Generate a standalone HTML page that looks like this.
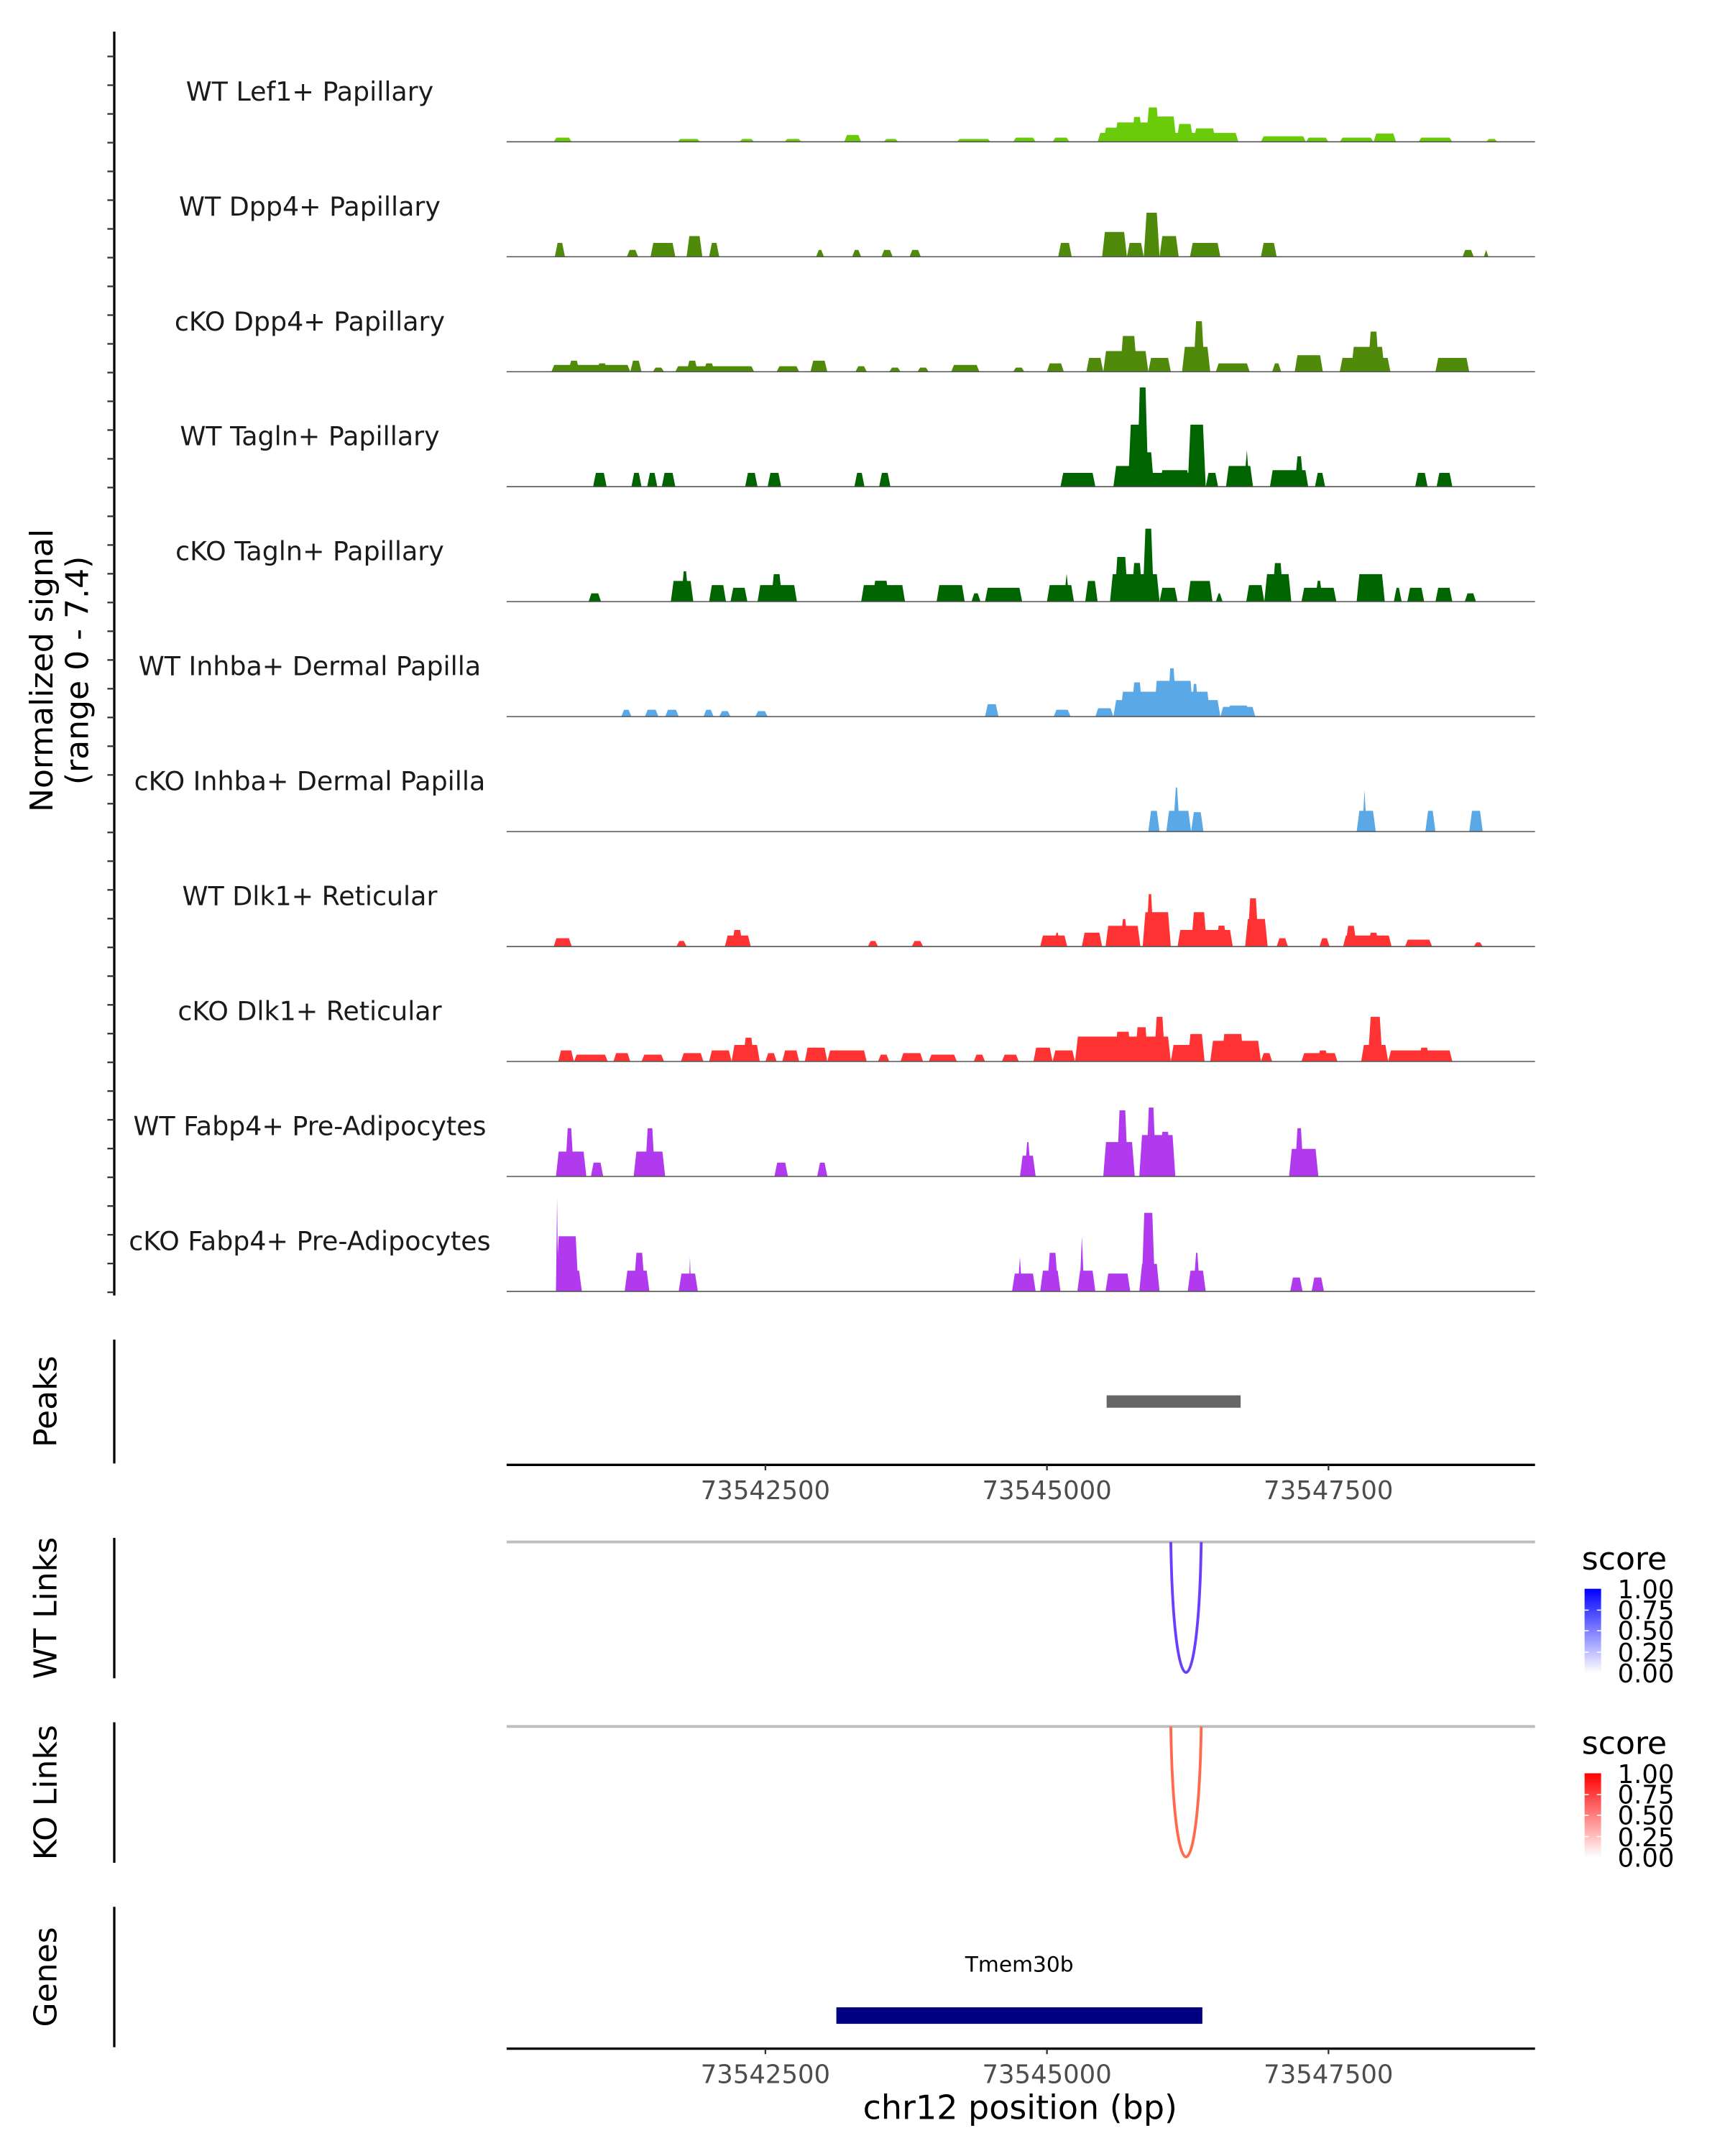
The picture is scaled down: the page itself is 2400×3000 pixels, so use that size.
<!DOCTYPE html>
<html><head><meta charset="utf-8">
<style>
html,body{margin:0;padding:0;background:#fff;}
svg{display:block;font-family:"DejaVu Sans","Liberation Sans",sans-serif;}
</style></head>
<body>
<svg id="chart" xmlns="http://www.w3.org/2000/svg" width="2400" height="3000" viewBox="0 0 1253 1566" preserveAspectRatio="none">
<rect x="0" y="0" width="1253" height="1566" fill="#fff"/>
<g id="tracks"></g>
<g id="leftaxis"></g>
<text transform="translate(44,487) rotate(-90)" text-anchor="middle" font-size="23" fill="#000"><tspan x="0" dy="-6">Normalized signal</tspan><tspan x="0" dy="26">(range 0 - 7.4)</tspan></text>

<!-- Peaks -->
<line x1="83" y1="973" x2="83" y2="1063" stroke="#000" stroke-width="1.7"/>
<text transform="translate(41,1018) rotate(-90)" text-anchor="middle" font-size="23">Peaks</text>
<g id="peaks"></g>
<g id="xaxis1"></g>

<!-- WT links -->
<line x1="83" y1="1117" x2="83" y2="1219" stroke="#000" stroke-width="1.7"/>
<text transform="translate(41,1168) rotate(-90)" text-anchor="middle" font-size="23">WT Links</text>
<g id="wtlinks"></g>
<!-- KO links -->
<line x1="83" y1="1251" x2="83" y2="1353" stroke="#000" stroke-width="1.7"/>
<text transform="translate(41,1302) rotate(-90)" text-anchor="middle" font-size="23">KO Links</text>
<g id="kolinks"></g>

<defs>
<linearGradient id="gBlue" x1="0" y1="1" x2="0" y2="0"><stop offset="0" stop-color="#ffffff"/><stop offset="1" stop-color="#0000ff"/></linearGradient>
<linearGradient id="gRed" x1="0" y1="1" x2="0" y2="0"><stop offset="0" stop-color="#ffffff"/><stop offset="1" stop-color="#ff0000"/></linearGradient>
</defs>
<g>
<text x="1149" y="1140" font-size="23">score</text>
<rect x="1151" y="1154" width="12" height="61" fill="url(#gBlue)"/>
<g font-size="18.5" fill="#000">
<text x="1175" y="1161">1.00</text><text x="1175" y="1176">0.75</text><text x="1175" y="1191">0.50</text><text x="1175" y="1207">0.25</text><text x="1175" y="1222">0.00</text>
</g>
<g stroke="#fff" stroke-width="0.8"><line x1="1151" y1="1169.5" x2="1154" y2="1169.5"/><line x1="1160" y1="1169.5" x2="1163" y2="1169.5"/><line x1="1151" y1="1184.5" x2="1154" y2="1184.5"/><line x1="1160" y1="1184.5" x2="1163" y2="1184.5"/><line x1="1151" y1="1200" x2="1154" y2="1200"/><line x1="1160" y1="1200" x2="1163" y2="1200"/></g>
</g>
<g>
<text x="1149" y="1274" font-size="23">score</text>
<rect x="1151" y="1288" width="12" height="61" fill="url(#gRed)"/>
<g font-size="18.5" fill="#000">
<text x="1175" y="1295">1.00</text><text x="1175" y="1310">0.75</text><text x="1175" y="1325">0.50</text><text x="1175" y="1341">0.25</text><text x="1175" y="1356">0.00</text>
</g>
<g stroke="#fff" stroke-width="0.8"><line x1="1151" y1="1303.5" x2="1154" y2="1303.5"/><line x1="1160" y1="1303.5" x2="1163" y2="1303.5"/><line x1="1151" y1="1318.5" x2="1154" y2="1318.5"/><line x1="1160" y1="1318.5" x2="1163" y2="1318.5"/><line x1="1151" y1="1334" x2="1154" y2="1334"/><line x1="1160" y1="1334" x2="1163" y2="1334"/></g>
</g>

<!-- Genes -->
<line x1="83" y1="1385" x2="83" y2="1487" stroke="#000" stroke-width="1.7"/>
<text transform="translate(41,1436) rotate(-90)" text-anchor="middle" font-size="23">Genes</text>
<g id="genes"></g>
<g id="xaxis2"></g>
<text x="741" y="1539" text-anchor="middle" font-size="24">chr12 position (bp)</text>
</svg>
<script>
// ---- data ----
const regionStart = 73540202;
const regionEnd = 73549334;
const xTicks = [73542500, 73545000, 73547500];
const xTickLabels = ["73542500", "73545000", "73547500"];
const trackNames = ["WT Lef1+ Papillary","WT Dpp4+ Papillary","cKO Dpp4+ Papillary","WT Tagln+ Papillary","cKO Tagln+ Papillary","WT Inhba+ Dermal Papilla","cKO Inhba+ Dermal Papilla","WT Dlk1+ Reticular","cKO Dlk1+ Reticular","WT Fabp4+ Pre-Adipocytes","cKO Fabp4+ Pre-Adipocytes"];
const trackColors = ["#6acb0a","#4f8a0b","#4f8a0b","#006400","#006400","#5aa9e6","#5aa9e6","#ff3333","#ff3333","#b23aee","#b23aee"];
const signalMax = 7.4;
// peaks: [start kb offset from 73540000, end kb offset, normalized signal]
const lef1WT = [[0.62,0.78,0.28],[1.72,1.92,0.19],[2.27,2.40,0.19],[2.67,2.82,0.19],[3.2,3.35,0.46],[3.55,3.68,0.19],[4.2,4.5,0.19],[4.7,4.9,0.28],[5.05,5.2,0.28],[5.45,6.7,0.6],[5.5,5.7,0.95],[5.6,5.95,1.3],[5.75,5.85,1.67],[5.88,6.0,2.31],[5.95,6.15,1.7],[6.15,6.3,1.2],[6.3,6.5,0.9],[6.9,7.3,0.37],[7.3,7.5,0.28],[7.6,7.9,0.28],[7.9,8.1,0.56],[8.3,8.6,0.28],[8.9,9.0,0.19]];
const dpp4WT = [[0.63,0.72,0.93],[1.27,1.37,0.46],[1.48,1.70,0.93],[1.80,1.94,1.39],[2.0,2.09,0.93],[2.95,3.02,0.46],[3.27,3.35,0.46],[3.53,3.63,0.46],[3.78,3.88,0.46],[5.1,5.22,0.93],[5.49,5.71,1.67],[5.71,5.86,0.93],[5.86,6.0,2.96],[6.0,6.17,1.39],[6.27,6.54,0.93],[6.9,7.04,0.93],[8.69,8.79,0.46],[8.88,8.92,0.46]];
const dpp4KO = [[0.6,1.3,0.46],[0.75,0.85,0.74],[1.0,1.1,0.56],[1.1,1.3,0.37],[1.3,1.4,0.74],[1.5,1.6,0.28],[1.7,2.4,0.37],[1.8,1.9,0.74],[1.95,2.05,0.56],[2.6,2.8,0.37],[2.9,3.05,0.74],[3.3,3.4,0.37],[3.6,3.7,0.28],[3.85,3.95,0.28],[4.15,4.4,0.46],[4.7,4.8,0.28],[5.0,5.15,0.56],[5.35,5.5,0.93],[5.5,5.9,1.39],[5.65,5.8,2.4],[5.9,6.1,0.93],[6.2,6.45,1.67],[6.3,6.4,3.4],[6.5,6.8,0.56],[7.0,7.08,0.56],[7.2,7.45,1.11],[7.6,8.05,0.93],[7.7,8.0,1.67],[7.85,7.95,2.7],[8.45,8.75,0.93]];
const taglnWT = [[0.97,1.09,0.93],[1.31,1.40,0.93],[1.45,1.54,0.93],[1.58,1.70,0.93],[2.32,2.43,0.93],[2.52,2.64,0.93],[3.29,3.38,0.93],[3.51,3.61,0.93],[5.12,5.43,0.93],[5.59,6.3,0.93],[5.59,5.79,1.39],[5.72,5.86,4.17],[5.8,5.9,6.67],[5.86,5.95,2.31],[6.0,6.27,1.11],[6.25,6.41,4.17],[6.41,6.52,0.93],[6.59,6.83,1.39],[6.75,6.8,2.4],[6.98,7.32,1.11],[7.2,7.28,2.04],[7.38,7.47,0.93],[8.27,8.38,0.93],[8.46,8.6,0.93]];
const taglnKO = [[0.93,1.04,0.56],[1.66,1.86,1.39],[1.75,1.82,2.04],[2.0,2.15,1.11],[2.19,2.34,0.93],[2.43,2.78,1.11],[2.55,2.65,1.85],[3.35,3.74,1.11],[3.45,3.6,1.4],[4.02,4.27,1.11],[4.33,4.41,0.56],[4.45,4.78,0.93],[5.0,5.24,1.11],[5.15,5.2,1.85],[5.34,5.45,1.39],[5.56,6.0,1.85],[5.6,5.72,3.0],[5.75,5.85,2.6],[5.85,5.95,4.9],[6.0,6.16,0.93],[6.25,6.47,1.39],[6.5,6.56,0.56],[6.77,6.93,1.11],[6.93,7.17,1.85],[7.0,7.1,2.59],[7.26,7.57,0.93],[7.38,7.45,1.4],[7.75,8.0,1.85],[8.08,8.15,0.93],[8.2,8.35,0.93],[8.45,8.6,0.93],[8.71,8.81,0.56]];
const inhbaWT = [[1.22,1.31,0.46],[1.43,1.55,0.46],[1.61,1.73,0.46],[1.95,2.04,0.46],[2.09,2.19,0.37],[2.41,2.52,0.37],[4.45,4.57,0.83],[5.06,5.21,0.46],[5.43,5.59,0.56],[5.59,6.54,1.11],[5.65,6.45,1.67],[5.75,5.85,2.3],[5.95,6.3,2.4],[6.07,6.15,3.24],[6.28,6.35,2.2],[6.54,6.85,0.65],[6.6,6.8,0.74]];
const inhbaKO = [[5.90,6.0,1.39],[6.06,6.28,1.39],[6.12,6.18,2.96],[6.28,6.39,1.3],[7.75,7.92,1.39],[7.8,7.84,2.78],[8.36,8.45,1.39],[8.75,8.87,1.39]];
const dlk1WT = [[0.62,0.78,0.56],[1.71,1.80,0.37],[2.14,2.37,0.74],[2.2,2.3,1.11],[3.41,3.5,0.37],[3.8,3.9,0.37],[4.94,5.18,0.74],[5.06,5.12,0.93],[5.31,5.49,0.93],[5.52,5.83,1.39],[5.65,5.72,1.85],[5.85,6.1,2.31],[5.88,5.95,3.52],[6.16,6.65,1.11],[6.28,6.42,2.31],[6.5,6.6,1.4],[6.76,6.96,1.85],[6.78,6.88,3.24],[7.04,7.14,0.56],[7.42,7.51,0.56],[7.63,8.06,0.74],[7.65,7.75,1.39],[7.85,7.95,0.93],[8.18,8.42,0.46],[8.79,8.87,0.28]];
const dlk1KO = [[0.66,0.8,0.74],[0.8,1.1,0.46],[1.15,1.3,0.56],[1.4,1.6,0.46],[1.75,1.95,0.56],[2.0,2.2,0.74],[2.2,2.45,1.11],[2.3,2.4,1.6],[2.5,2.6,0.56],[2.65,2.8,0.74],[2.85,3.05,0.93],[3.05,3.4,0.74],[3.5,3.6,0.46],[3.7,3.9,0.56],[3.95,4.2,0.46],[4.35,4.45,0.46],[4.6,4.75,0.46],[4.88,5.05,0.93],[5.05,5.25,0.74],[5.25,6.1,1.67],[5.3,5.5,1.1],[5.6,5.75,2.0],[5.78,5.9,2.3],[5.95,6.05,3.0],[6.1,6.3,1.11],[6.25,6.4,1.85],[6.45,6.9,1.39],[6.55,6.75,1.85],[6.9,7.0,0.56],[7.26,7.58,0.56],[7.4,7.5,0.74],[7.79,8.03,1.11],[7.85,7.98,3.0],[8.03,8.6,0.74],[8.3,8.4,0.93]];
const fabp4WT = [[0.64,0.91,1.67],[0.72,0.8,3.24],[0.95,1.06,0.93],[1.33,1.61,1.67],[1.43,1.52,3.24],[2.58,2.7,0.93],[2.96,3.05,0.93],[4.76,4.9,1.39],[4.8,4.86,2.31],[5.5,5.78,2.31],[5.62,5.72,4.44],[5.82,6.14,2.78],[5.88,5.97,4.63],[6.0,6.1,3.0],[7.15,7.41,1.85],[7.2,7.28,3.24]];
const fabp4KO = [[0.64,0.84,3.7],[0.64,0.66,6.3],[0.8,0.87,1.39],[1.25,1.47,1.39],[1.33,1.43,2.59],[1.73,1.9,1.2],[1.82,1.84,2.31],[4.69,4.9,1.2],[4.74,4.78,2.31],[4.94,5.12,1.39],[5.0,5.1,2.59],[5.27,5.43,1.39],[5.29,5.33,3.7],[5.52,5.74,1.2],[5.82,6.0,1.85],[5.84,5.96,5.28],[6.25,6.41,1.39],[6.3,6.36,2.59],[7.16,7.27,0.93],[7.35,7.46,0.93]];
const trackData = [lef1WT,dpp4WT,dpp4KO,taglnWT,taglnKO,inhbaWT,inhbaKO,dlk1WT,dlk1KO,fabp4WT,fabp4KO];
const peakRegions = [[73545530, 73546720]];
const wtLinks = [[73546100, 73546370, 0.72]];
const koLinks = [[73546100, 73546370, 0.65]];
const geneStart = [73543130];
const geneEnd = [73546380];
const geneNames = ["Tmem30b"];

// ---- layout ----
const NS = "http://www.w3.org/2000/svg";
const PX0 = 368, PX1 = 1115;
const X = bp => PX0 + (bp - regionStart) / (regionEnd - regionStart) * (PX1 - PX0);
const XK = kb => X(73540000 + kb * 1000);
const trackTop = 20, trackStep = 83.5, trackH = 80;
const Y = v => v / signalMax * trackH;
function el(tag, attrs, parent){ const e = document.createElementNS(NS, tag); for (const k in attrs) e.setAttribute(k, attrs[k]); parent.appendChild(e); return e; }

const tracks = document.getElementById('tracks');
trackNames.forEach((name, i) => {
  const base = trackTop + trackStep * (i + 1) - 0.5;
  const g = el('g', {}, tracks);
  
  
  const t = el('text', {x: 225, y: base - 30, 'text-anchor': 'middle', 'font-size': 19, fill: '#1a1a1a'}, g);
  t.textContent = name;
  
  
  trackData[i].forEach(p => {
    const x0 = XK(p[0]), x1 = XK(p[1]), h = Y(p[2]);
    const r = Math.min(2, (x1 - x0) / 2);
    const poly = el('polygon', {points: `${x0},${base} ${x0 + r},${base - h} ${x1 - r},${base - h} ${x1},${base}`, fill: trackColors[i]}, g);
    
    
  });
  const bl = el('line', {x1: PX0, x2: PX1, y1: base, y2: base, stroke: '#555', 'stroke-width': 0.8}, g);
  
  
});

// left axis
const la = document.getElementById('leftaxis');
el('line', {x1: 83, y1: 23, x2: 83, y2: 941, stroke: '#000', 'stroke-width': 1.7}, la);
for (let k = 0; k < 44; k++) {
  const y = 41 + k * 20.875;
  const tk = el('line', {x1: 78, x2: 83, y1: y, y2: y, stroke: '#333', 'stroke-width': 1.2}, la);
  
  
}

// peaks
const pk = document.getElementById('peaks');
peakRegions.forEach(p => {
  const r = el('rect', {x: X(p[0]), y: 1013.5, width: X(p[1]) - X(p[0]), height: 9, fill: '#666'}, pk);
  
  
});

function xAxis(id, y) {
  const g = document.getElementById(id);
  el('line', {x1: PX0, x2: PX1, y1: y, y2: y, stroke: '#000', 'stroke-width': 1.7}, g);
  xTicks.forEach((t, i) => {
    const x = X(t);
    const tk = el('line', {x1: x, x2: x, y1: y, y2: y + 4, stroke: '#333', 'stroke-width': 1.2}, g);
    
    
    const lb = el('text', {x: x, y: y + 25, 'text-anchor': 'middle', 'font-size': 18.5, fill: '#4d4d4d'}, g);
    lb.textContent = xTickLabels[i];
    
    
  });
}
xAxis('xaxis1', 1064);
xAxis('xaxis2', 1488);

function links(id, data, top, bottom, color) {
  const g = document.getElementById(id);
  el('line', {x1: PX0, x2: PX1, y1: top, y2: top, stroke: '#bebebe', 'stroke-width': 2}, g);
  data.forEach(d => {
    const a = X(d[0]), b = X(d[1]);
    const depth = bottom - top;
    const p = el('path', {d: `M${a},${top} C${a + 2},${top + depth * 1.33} ${b - 2},${top + depth * 1.33} ${b},${top}`, fill: 'none', stroke: color, 'stroke-width': 2}, g);
    
    
  });
}
links('wtlinks', wtLinks, 1120, 1215, '#6a3dff');
links('kolinks', koLinks, 1254, 1349, '#ff6a4d');

// genes
const gg = document.getElementById('genes');
geneNames.forEach((n, i) => {
  const a = X(geneStart[i]), b = X(geneEnd[i]);
  const r = el('rect', {x: a, y: 1458, width: b - a, height: 12, fill: '#000080'}, gg);
  
  
  const t = el('text', {x: (a + b) / 2, y: 1432, 'text-anchor': 'middle', 'font-size': 15.5, fill: '#000'}, gg);
  t.textContent = n;
  
  
});
</script>
</body></html>
